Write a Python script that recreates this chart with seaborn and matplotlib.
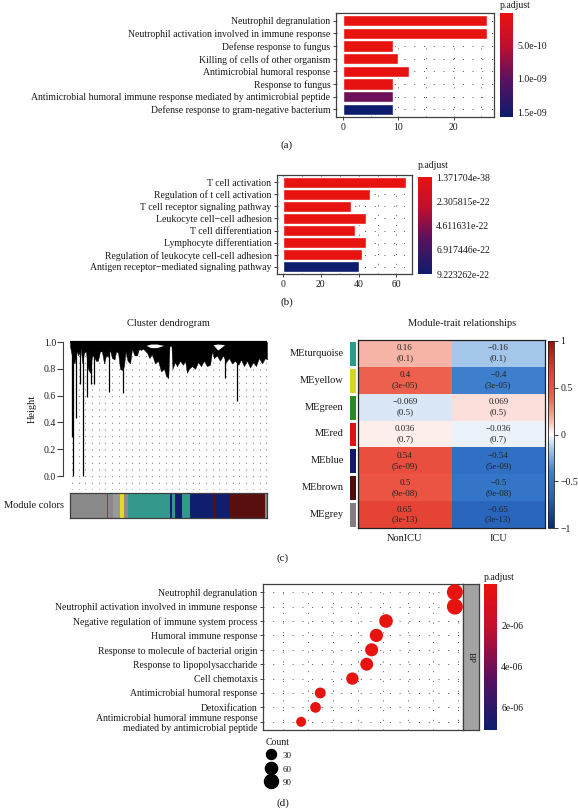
import numpy as np
import pandas as pd
import matplotlib
matplotlib.use("Agg")
import matplotlib.pyplot as plt
import seaborn as sns
from matplotlib.colors import LinearSegmentedColormap, Normalize, ListedColormap
from matplotlib.ticker import MultipleLocator
from matplotlib.cm import ScalarMappable
from matplotlib.lines import Line2D

# ---------------- data: panel (a) ----------------
a_terms = ["Neutrophil degranulation",
           "Neutrophil activation involved in immune response",
           "Defense response to fungus",
           "Killing of cells of other organism",
           "Antimicrobial humoral response",
           "Response to fungus",
           "Antimicrobial humoral immune response mediated by antimicrobial peptide",
           "Defense response to gram-negative bacterium"]
a_count = [26, 26, 9, 10, 12, 9, 9, 9]
a_padj = [2e-11, 2e-11, 3e-11, 3e-11, 4e-11, 5e-11, 9.2e-10, 1.57e-9]
a_cticks = [5e-10, 1e-9, 1.5e-9]
a_clabels = ["5.0e-10", "1.0e-09", "1.5e-09"]

# ---------------- data: panel (b) ----------------
b_terms = ["T cell activation",
           "Regulation of t cell activation",
           "T cell receptor signaling pathway",
           "Leukocyte cell\u2212cell adhesion",
           "T cell differentiation",
           "Lymphocyte differentiation",
           "Regulation of leukocyte cell-cell adhesion",
           "Antigen receptor\u2212mediated signaling pathway"]
b_count = [65, 46, 36, 44, 38, 44, 42, 40]
b_padj = [1.371704e-38, 1e-30, 1e-29, 1e-28, 1e-27, 1e-26, 1e-25, 9.223262e-22]
b_cticks = [1.371704e-38, 2.305815e-22, 4.611631e-22, 6.917446e-22, 9.223262e-22]
b_clabels = ["1.371704e-38", "2.305815e-22", "4.611631e-22", "6.917446e-22", "9.223262e-22"]

# ---------------- data: panel (c) dendrogram ----------------
# lower edge of the dense branch mass (leaf position in % of leaves, height)
dend_pos = [0.0, 1.4, 2.3, 3.4, 4.2, 5.4, 6.3, 7.1, 8.1, 9.1, 10.2, 11.2, 12.2, 13.2,
            14.2, 15.2, 16.2, 17.3, 18.3, 19.3, 20.3, 21.3, 22.6, 23.4, 24.4, 25.4,
            26.4, 27.4, 28.2, 29.2, 30.5, 31.5, 32.7, 34.0, 35.0, 36.0, 37.1, 39.1,
            40.3, 41.6, 43.1, 44.7, 46.2, 47.7, 48.7, 49.9, 50.5, 51.5, 52.0, 53.3,
            54.3, 55.8, 57.4, 58.4, 59.4, 60.4, 61.9, 63.5, 65.0, 66.5, 68.0, 69.5,
            71.1, 72.1, 73.1, 74.6, 76.1, 77.7, 79.2, 80.7, 82.2, 83.8, 85.5, 86.8,
            88.3, 89.8, 91.4, 92.9, 94.4, 95.9, 97.5, 99.0, 100.0]
dend_env = [0.97, 0.86, 0.84, 0.93, 0.90, 0.95, 0.84, 0.92, 0.93, 0.80, 0.77, 0.90,
            0.89, 0.86, 0.86, 0.93, 0.93, 0.84, 0.90, 0.89, 0.94, 0.88, 0.87, 0.93,
            0.92, 0.80, 0.79, 0.82, 0.93, 0.86, 0.84, 0.95, 0.90, 0.90, 0.95, 0.94,
            0.95, 0.92, 0.88, 0.91, 0.84, 0.86, 0.78, 0.80, 0.75, 0.73, 0.97, 0.97,
            0.80, 0.85, 0.82, 0.86, 0.83, 0.86, 0.77, 0.80, 0.82, 0.80, 0.85, 0.82,
            0.86, 0.82, 0.83, 0.93, 0.88, 0.90, 0.86, 0.90, 0.85, 0.88, 0.84, 0.86,
            0.83, 0.87, 0.82, 0.86, 0.81, 0.85, 0.82, 0.88, 0.84, 0.88, 0.87]
# white gaps inside the mass near the top (leaf %, lower and upper height)
hole_pos = [38.6, 41.0, 44.0, 47.5, 72.6, 75.0, 78.5]
hole_lo = [0.975, 0.958, 0.958, 0.975, 0.98, 0.94, 0.98]
hole_hi = [0.975, 0.985, 0.985, 0.975, 0.98, 0.985, 0.98]
# isolated long branches (leaf position %, lowest height)
spike_pos = [0.9, 1.7, 2.9, 5.2, 6.5, 8.5, 10.5, 12.0, 20.0, 27.0, 78.7, 84.8]
spike_low = [0.29, 0.0, 0.43, 0.69, 0.0, 0.59, 0.69, 0.69, 0.63, 0.62, 0.73, 0.56]
# module colour bar: boundaries (% of leaves) and module of each segment
mod_bounds = [0, 18.6, 19.4, 21.9, 25.4, 27.4, 29.6, 50.8, 51.6, 53.3, 56.7, 60.9,
              72.7, 73.4, 81.2, 99.0, 100]
mod_seq = ["grey", "red", "grey", "lightgrey", "yellow", "grey", "turquoise", "blue",
           "turquoise", "blue", "turquoise", "blue", "brown", "blue", "brown", "grey"]
mod_palette = {"grey": "#8a8a8a", "lightgrey": "#9a9a9a", "red": "#e31414",
               "yellow": "#e3dc1c", "turquoise": "#32998c", "blue": "#0f1f6e",
               "brown": "#5a0f0f", "green": "#2b8a24"}

# ---------------- data: panel (c) heatmap ----------------
modules = ["MEturquoise", "MEyellow", "MEgreen", "MEred", "MEblue", "MEbrown", "MEgrey"]
module_colors = ["#2f998a", "#d9d51c", "#2b8a24", "#e01212", "#0f1c6b", "#4f0d0d", "#7f7f7f"]
traits = ["NonICU", "ICU"]
cor_nonicu = [0.16, 0.4, -0.069, 0.036, 0.54, 0.5, 0.65]
cor_icu = [-0.16, -0.4, 0.069, -0.036, -0.54, -0.5, -0.65]
pvals = ["0.1", "3e-05", "0.5", "0.7", "5e-09", "9e-08", "3e-13"]

# ---------------- data: panel (d) ----------------
d_terms = ["Neutrophil degranulation",
           "Neutrophil activation involved in immune response",
           "Negative regulation of immune system process",
           "Humoral immune response",
           "Response to molecule of bacterial origin",
           "Response to lipopolysaccharide",
           "Cell chemotaxis",
           "Antimicrobial humoral response",
           "Detoxification",
           "Antimicrobial humoral immune response\nmediated by antimicrobial peptide"]
d_count = [126, 126, 83, 77, 74, 71, 62, 42, 39, 30]
d_ratio = [0.1615, 0.1615, 0.1064, 0.0987, 0.0949, 0.0910, 0.0795, 0.0538, 0.0500, 0.0385]
d_padj = [1e-12, 1e-12, 5e-10, 1e-9, 2e-9, 3e-9, 8e-9, 2e-8, 3e-8, 5e-8]
d_cticks = [2e-6, 4e-6, 6e-6]
d_clabels = ["2e-06", "4e-06", "6e-06"]
count_legend = [30, 60, 90]

# ---------------- style ----------------
sns.set_theme(style="white")
plt.rcParams["font.family"] = ["Liberation Serif", "DejaVu Serif"]
plt.rcParams["axes.unicode_minus"] = True

W, H = 578, 808
fig = plt.figure(figsize=(W / 100, H / 100), dpi=100)
fig.patch.set_facecolor("white")
TXT = "#1a1a1a"
FRAME = "#404040"
DOT = (0, (1, 9))


def rect(x0, y0, x1, y1):
    return [x0 / W, 1 - y1 / H, (x1 - x0) / W, (y1 - y0) / H]


def ftext(x, y, s, **kw):
    kw.setdefault("color", TXT)
    fig.text(x / W, 1 - y / H, s, **kw)


padj_cmap = LinearSegmentedColormap.from_list(
    "padj", [(0, "#e8120f"), (0.3, "#c30f2d"), (0.64, "#5a1060"), (1, "#0d1c6c")])


def style_frame(ax):
    for s in ax.spines.values():
        s.set_visible(True)
        s.set_color(FRAME)
        s.set_linewidth(0.9)


def padj_colorbar(cax_rect, vmin, vmax, ticks, labels, label_xy):
    cax = fig.add_axes(rect(*cax_rect))
    sm = ScalarMappable(norm=Normalize(vmin, vmax), cmap=padj_cmap)
    cb = fig.colorbar(sm, cax=cax)
    cb.outline.set_visible(False)
    cax.invert_yaxis()
    cb.set_ticks(ticks)
    cb.set_ticklabels(labels)
    cax.yaxis.set_ticks_position("both")
    cax.tick_params(axis="y", direction="in", length=2.5, width=0.8, color="white",
                    labelsize=7, labelcolor=TXT, pad=3, labelleft=False, labelright=True)
    ftext(label_xy[0], label_xy[1], "p.adjust", fontsize=7, ha="left", va="center")


def enrich_bar(ax_rect, terms, counts, padj, vmin, vmax, major, minor):
    ax = fig.add_axes(rect(*ax_rect))
    norm = Normalize(vmin, vmax)
    cols = [padj_cmap(norm(p)) for p in padj]
    df = pd.DataFrame({"term": terms, "count": counts})
    sns.barplot(data=df, x="count", y="term", hue="term", palette=cols, legend=False,
                saturation=1, width=0.9, ax=ax, zorder=3)
    xmax = max(counts)
    ax.set_xlim(-0.05 * xmax, 1.05 * xmax)
    ax.set_ylim(len(terms) - 0.4, -0.6)
    ax.set_xticks(major)
    ax.xaxis.set_minor_locator(MultipleLocator(minor))
    ax.set_axisbelow(True)
    ax.grid(which="both", axis="x", linestyle=DOT, linewidth=0.7, color="#555555")
    ax.grid(which="major", axis="y", linestyle=DOT, linewidth=0.7, color="#555555")
    ax.set_xlabel("")
    ax.set_ylabel("")
    ax.tick_params(axis="both", which="major", length=2.5, width=0.7, color=FRAME,
                   labelsize=7, labelcolor=TXT, pad=1.5, left=True, bottom=True)
    ax.tick_params(axis="x", which="minor", length=0)
    style_frame(ax)
    return ax


# ---------------- panel (a) ----------------
enrich_bar((336, 13, 494, 117), a_terms, a_count, a_padj, min(a_padj), max(a_padj),
           [0, 10, 20], 5)
padj_colorbar((500, 13, 513, 117), min(a_padj), max(a_padj), a_cticks, a_clabels, (500, 5))
ftext(287, 145, "(a)", fontsize=8, ha="center", va="center")

# ---------------- panel (b) ----------------
enrich_bar((277, 175, 412, 274), b_terms, b_count, b_padj, min(b_padj), max(b_padj),
           [0, 20, 40, 60], 10)
padj_colorbar((418, 177, 432, 274), min(b_padj), max(b_padj), b_cticks, b_clabels, (418, 166))
ftext(287, 302, "(b)", fontsize=8, ha="center", va="center")

# ---------------- panel (c): dendrogram ----------------
axg = fig.add_axes(rect(63, 338, 267, 490))
axg.set_xlim(-3.55, 100)
axg.set_ylim(-0.104, 1.03)
axg.vlines(np.arange(1.0, 100, 3.4), -0.104, 0.97, colors="#8a8a8a",
           linestyles=(0, (1, 5)), linewidth=0.8, zorder=1)
axg.fill_between(dend_pos, dend_env, 1.0, color="black", linewidth=0.3, zorder=3)
axg.fill_between(hole_pos, hole_lo, hole_hi, color="white", linewidth=0, zorder=3.5)
axg.vlines(spike_pos, spike_low, 1.0, colors="black", linewidth=0.9, zorder=3)
axg.hlines(1.0, 0, 100, colors="black", linewidth=1.6, zorder=4)
axg.vlines([100], 0.96, 1.0, colors="black", linewidth=0.9, zorder=4)
for side in ["top", "right", "bottom"]:
    axg.spines[side].set_visible(False)
axg.spines["left"].set_bounds(0, 1)
axg.spines["left"].set_color(FRAME)
axg.spines["left"].set_linewidth(0.8)
axg.set_yticks([0, 0.2, 0.4, 0.6, 0.8, 1.0])
axg.set_yticklabels(["0.0", "0.2", "0.4", "0.6", "0.8", "1.0"])
axg.set_xticks([])
axg.tick_params(axis="y", length=4, width=0.8, color=FRAME, labelsize=7, labelcolor=TXT,
                pad=1, left=True)
axg.set_facecolor("none")
ftext(168, 323, "Cluster dendrogram", fontsize=7.5, ha="center", va="center")
ftext(32, 409, "Height", fontsize=7.5, ha="center", va="center", rotation=90)

axm = fig.add_axes(rect(70, 493, 267, 518))
starts = mod_bounds[:-1]
widths = [b - a for a, b in zip(mod_bounds[:-1], mod_bounds[1:])]
axm.bar(starts, [1] * len(starts), width=widths, align="edge",
        color=[mod_palette[m] for m in mod_seq], linewidth=0)
axm.set_xlim(0, 100)
axm.set_ylim(0, 1)
axm.set_xticks([])
axm.set_yticks([])
style_frame(axm)
ftext(64, 505, "Module colors", fontsize=7.5, ha="right", va="center")

# ---------------- panel (c): module-trait heatmap ----------------
hm_cmap = LinearSegmentedColormap.from_list("bwr", [
    (0, "#0a2a6e"), (0.175, "#2a66bd"), (0.23, "#3071c4"), (0.3, "#3d7fcd"),
    (0.42, "#a3c6ea"), (0.5, "#ffffff"), (0.58, "#f7b3a6"), (0.7, "#ed604d"),
    (0.77, "#ea4f3e"), (0.825, "#e64434"), (1, "#a0100e")])


def fmt_num(v):
    s = f"{v:g}"
    return s.replace("-", "\u2212")


cor_df = pd.DataFrame({"NonICU": cor_nonicu, "ICU": cor_icu}, index=modules)
annot = np.array([[f"{fmt_num(a)}\n({p})", f"{fmt_num(b)}\n({p})"]
                  for a, b, p in zip(cor_nonicu, cor_icu, pvals)])
axh = fig.add_axes(rect(358, 340, 545, 528))
caxh = fig.add_axes(rect(548, 341, 554, 528))
sns.heatmap(cor_df, cmap=hm_cmap, vmin=-1, vmax=1, annot=annot, fmt="",
            annot_kws={"size": 6.5, "color": "#222222", "linespacing": 1.35},
            cbar_ax=caxh, xticklabels=traits, yticklabels=False, ax=axh)
axh.tick_params(axis="x", length=0, labelsize=7.5, labelcolor=TXT, pad=4)
style_frame(axh)
for s in axh.spines.values():
    s.set_color("#202020")
cb = axh.collections[0].colorbar
cb.set_ticks([-1, -0.5, 0, 0.5, 1])
cb.set_ticklabels(["\u22121", "\u22120.5", "0", "0.5", "1"])
cb.outline.set_linewidth(0.6)
cb.outline.set_edgecolor("#202020")
caxh.tick_params(axis="y", length=3, width=0.6, color="#202020", labelsize=7,
                 labelcolor=TXT, pad=1.5)

axs = fig.add_axes(rect(348, 340, 357, 528))
sns.heatmap(np.arange(len(modules)).reshape(-1, 1), cmap=ListedColormap(module_colors),
            vmin=-0.5, vmax=len(modules) - 0.5, cbar=False, xticklabels=False,
            yticklabels=modules, linewidths=0.8, linecolor="white", ax=axs)
axs.tick_params(axis="y", length=0, labelsize=7.5, labelcolor=TXT, pad=3, rotation=0)
ftext(462, 324, "Module-trait relationships", fontsize=7.5, ha="center", va="center")
ftext(283, 558, "(c)", fontsize=8, ha="center", va="center")

# ---------------- panel (d): dot plot ----------------
axd = fig.add_axes(rect(263, 584, 463, 730))
df_d = pd.DataFrame({"term": d_terms, "GeneRatio": d_ratio, "Count": d_count,
                     "p.adjust": d_padj})
d_vmin, d_vmax = 0.0, 7.1e-6
d_norm = Normalize(d_vmin, d_vmax)
SIZES = (52, 132)
SIZE_NORM = (30, 126)
sns.scatterplot(data=df_d, x="GeneRatio", y="term", hue="p.adjust", palette=padj_cmap,
                hue_norm=d_norm, size="Count", sizes=SIZES, size_norm=SIZE_NORM,
                legend=False, edgecolor="none", ax=axd, zorder=3)
axd.set_xlim(0.008, 0.168)
axd.set_ylim(len(d_terms) - 0.43, -0.57)
axd.xaxis.set_major_locator(MultipleLocator(0.02, offset=0.004))
axd.set_axisbelow(True)
axd.grid(which="major", axis="both", linestyle=DOT, linewidth=0.7, color="#555555")
axd.set_xlabel("")
axd.set_ylabel("")
axd.tick_params(axis="x", length=0, labelbottom=False)
axd.tick_params(axis="y", length=2.5, width=0.7, color=FRAME, labelsize=7,
                labelcolor=TXT, pad=1.5, left=True)
style_frame(axd)

axst = fig.add_axes(rect(463, 584, 479, 730))
axst.set_facecolor("#a3a3a3")
axst.set_xticks([])
axst.set_yticks([])
style_frame(axst)
axst.text(0.5, 0.5, "BP", transform=axst.transAxes, rotation=-90, ha="center",
          va="center", fontsize=6.5, color=TXT)

padj_colorbar((484, 584, 497, 730), d_vmin, d_vmax, d_cticks, d_clabels, (484, 577))


def size_of(c):
    return SIZES[0] + (c - SIZE_NORM[0]) * (SIZES[1] - SIZES[0]) / (SIZE_NORM[1] - SIZE_NORM[0])


handles = [Line2D([], [], marker="o", linestyle="", color="black",
                  markersize=np.sqrt(size_of(c))) for c in count_legend]
leg = fig.legend(handles, [str(c) for c in count_legend], title="Count",
                 loc="upper left", bbox_to_anchor=(261 / W, 1 - 733 / H), frameon=False,
                 fontsize=6.5, title_fontsize=7, alignment="left", labelspacing=0.43,
                 handleheight=1.2, handletextpad=0.7, borderpad=0, handlelength=1.2)
for t in leg.get_texts():
    t.set_color(TXT)
leg.get_title().set_color(TXT)
ftext(283, 803, "(d)", fontsize=8, ha="center", va="center")

fig.savefig("out.png", dpi=100, facecolor="white")
